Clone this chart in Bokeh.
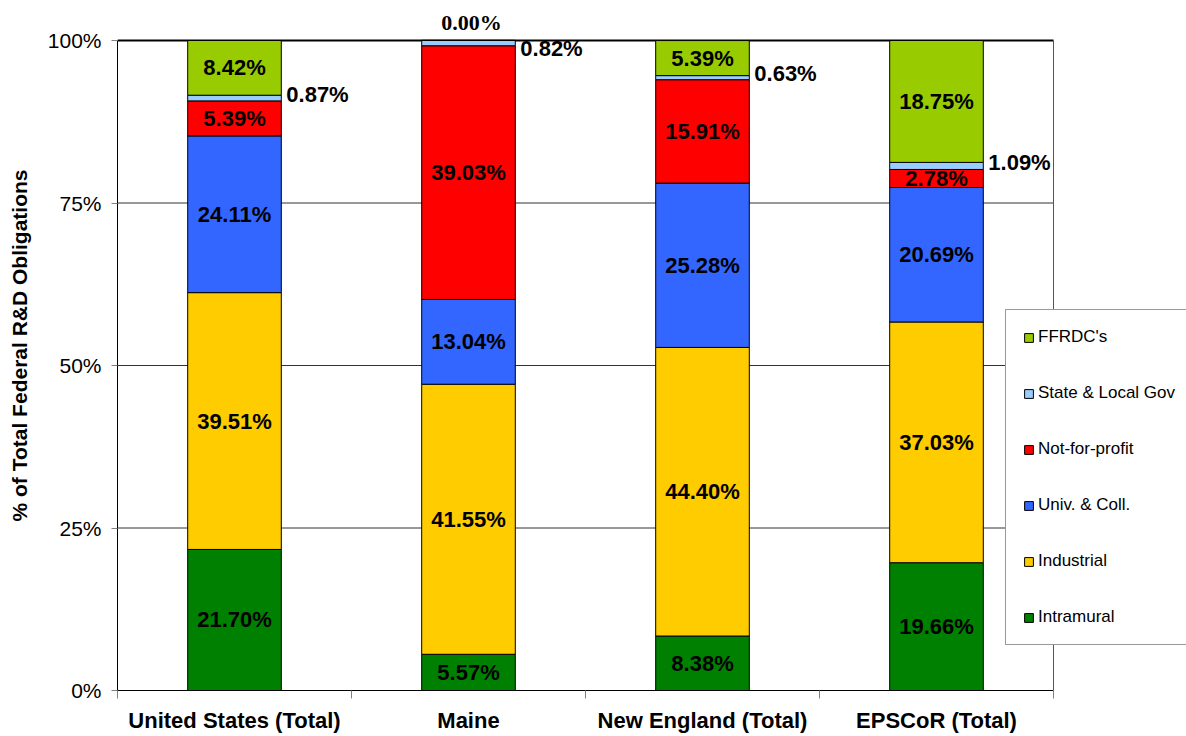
from bokeh.plotting import figure
from bokeh.models import ColumnDataSource, Range1d, FixedTicker, Legend, LegendItem, LabelSet
from bokeh.core.properties import value
from bokeh.embed import file_html
from bokeh.resources import INLINE

categories = ["United States (Total)", "Maine", "New England (Total)", "EPSCoR (Total)"]
series = ["Intramural", "Industrial", "Univ. & Coll.", "Not-for-profit", "State & Local Gov", "FFRDC's"]
intramural = [21.70, 5.57, 8.38, 19.66]
industrial = [39.51, 41.55, 44.40, 37.03]
univ_coll = [24.11, 13.04, 25.28, 20.69]
not_for_profit = [5.39, 39.03, 15.91, 2.78]
state_local = [0.87, 0.82, 0.63, 1.09]
ffrdc = [8.42, 0.00, 5.39, 18.75]
colors = ["#008000", "#FFCC00", "#3366FF", "#FF0000", "#99CCFF", "#99CC00"]
y_ticks = [0, 25, 50, 75, 100]
grid_ticks = [25, 50, 75]

values = [intramural, industrial, univ_coll, not_for_profit, state_local, ffrdc]
keys = ["s%d" % i for i in range(len(series))]
n = len(categories)
xs = [i + 0.5 for i in range(n)]
data = {"x": xs}
for k, v in zip(keys, values):
    data[k] = v
src = ColumnDataSource(data)

FONT = "Liberation Sans"
BAR_W = 0.4

# Plot box: x 0..n spans 117..1053 px, y 0..100 spans 690..40 px.
# The frame is extended to the canvas edges so that the legend and the
# label above the Maine bar are not clipped; the box itself is drawn below.
W, H = 1186, 736
LEFT, RIGHT, TOP, BOTTOM = 117, 1053, 40, 690
x_end = n * (W - LEFT) / (RIGHT - LEFT)
y_end = 100 * BOTTOM / (BOTTOM - TOP)

p = figure(width=W, height=H, x_range=Range1d(0, x_end), y_range=Range1d(0, y_end),
           output_backend="svg", toolbar_location=None,
           min_border_left=LEFT, min_border_right=0, min_border_top=0,
           min_border_bottom=H - BOTTOM)
p.background_fill_color = "white"
p.border_fill_color = "white"
p.outline_line_color = None
p.xgrid.visible = False
p.ygrid.visible = False

# gridlines and box
p.segment(x0=[0] * len(grid_ticks), x1=[n] * len(grid_ticks), y0=grid_ticks, y1=grid_ticks,
          line_color="#333333", line_width=1)
p.segment(x0=[0], x1=[n], y0=[100], y1=[100], line_color="black", line_width=2)
p.segment(x0=[n], x1=[n], y0=[0], y1=[100], line_color="#555555", line_width=1)

renderers = p.vbar_stack(keys, x="x", width=BAR_W, source=src,
                         fill_color=colors, line_color="black", line_width=1)

# segment labels
cx, cy, ct = [], [], []
sx, sy, st = [], [], []
tx, ty, tt = [], [], []
for j, x in enumerate(xs):
    base = 0.0
    for i, name in enumerate(series):
        v = values[i][j]
        mid = base + v / 2.0
        txt = "%.2f%%" % v
        if name == "State & Local Gov":
            sx.append(x + BAR_W / 2)
            sy.append(min(mid + 0.6, 98.7))
            st.append(txt)
        elif v == 0:
            tx.append(x)
            ty.append(base)
            tt.append(txt)
        else:
            cx.append(x)
            cy.append(mid)
            ct.append(txt)
        base += v

p.text(x=cx, y=cy, text=ct, text_align="center", text_baseline="middle",
       text_font=value(FONT), text_font_size=value("22px"), text_font_style="bold", text_color="black")
p.text(x=sx, y=sy, text=st, text_align="left", text_baseline="middle", x_offset=5,
       text_font=value(FONT), text_font_size=value("22px"), text_font_style="bold", text_color="black")
top_src = ColumnDataSource(dict(x=tx, y=ty, t=tt))
p.add_layout(LabelSet(x="x", y="y", text="t", source=top_src, text_align="center",
                      text_baseline="middle", y_offset=18, x_offset=3, text_font=FONT,
                      text_font_size="22px", text_font_style="bold", text_color="black"))

# axes
p.yaxis.bounds = (0, 100)
p.yaxis.ticker = FixedTicker(ticks=y_ticks)
p.yaxis.major_label_overrides = {t: "%d%%" % t for t in y_ticks}
p.yaxis.major_label_text_font = FONT
p.yaxis.major_label_text_font_size = "21px"
p.yaxis.major_label_text_color = "black"
p.yaxis.major_label_standoff = 10
p.yaxis.major_tick_in = 0
p.yaxis.major_tick_out = 6
p.yaxis.major_tick_line_color = "#808080"
p.yaxis.minor_tick_line_color = None
p.yaxis.axis_line_color = "black"
p.yaxis.axis_label = "% of Total Federal R&D Obligations"
p.yaxis.axis_label_text_font = FONT
p.yaxis.axis_label_text_font_size = "21px"
p.yaxis.axis_label_text_font_style = "bold"
p.yaxis.axis_label_text_color = "black"
p.yaxis.axis_label_standoff = 14

p.xaxis.bounds = (0, n)
p.xaxis.ticker = FixedTicker(ticks=xs, minor_ticks=list(range(n + 1)))
p.xaxis.major_label_overrides = {x: c for x, c in zip(xs, categories)}
p.xaxis.major_label_text_font = FONT
p.xaxis.major_label_text_font_size = "22px"
p.xaxis.major_label_text_font_style = "bold"
p.xaxis.major_label_text_color = "black"
p.xaxis.major_label_standoff = 9
p.xaxis.major_tick_line_color = None
p.xaxis.major_tick_in = 0
p.xaxis.major_tick_out = 0
p.xaxis.minor_tick_in = 0
p.xaxis.minor_tick_out = 8
p.xaxis.minor_tick_line_color = "#808080"
p.xaxis.axis_line_color = "black"

items = [LegendItem(label=series[i], renderers=[renderers[i]]) for i in reversed(range(len(series)))]
legend = Legend(items=items, location=(1005 - LEFT, BOTTOM - 645), orientation="vertical",
                label_text_font=FONT, label_text_font_size="17px", label_text_color="black",
                glyph_width=11, glyph_height=11, label_height=20, label_standoff=4,
                spacing=36, padding=17, margin=0,
                border_line_color="#333333", border_line_width=1,
                background_fill_color="white", background_fill_alpha=1.0)
p.add_layout(legend)

open("out.html", "w").write(file_html(p, INLINE))
